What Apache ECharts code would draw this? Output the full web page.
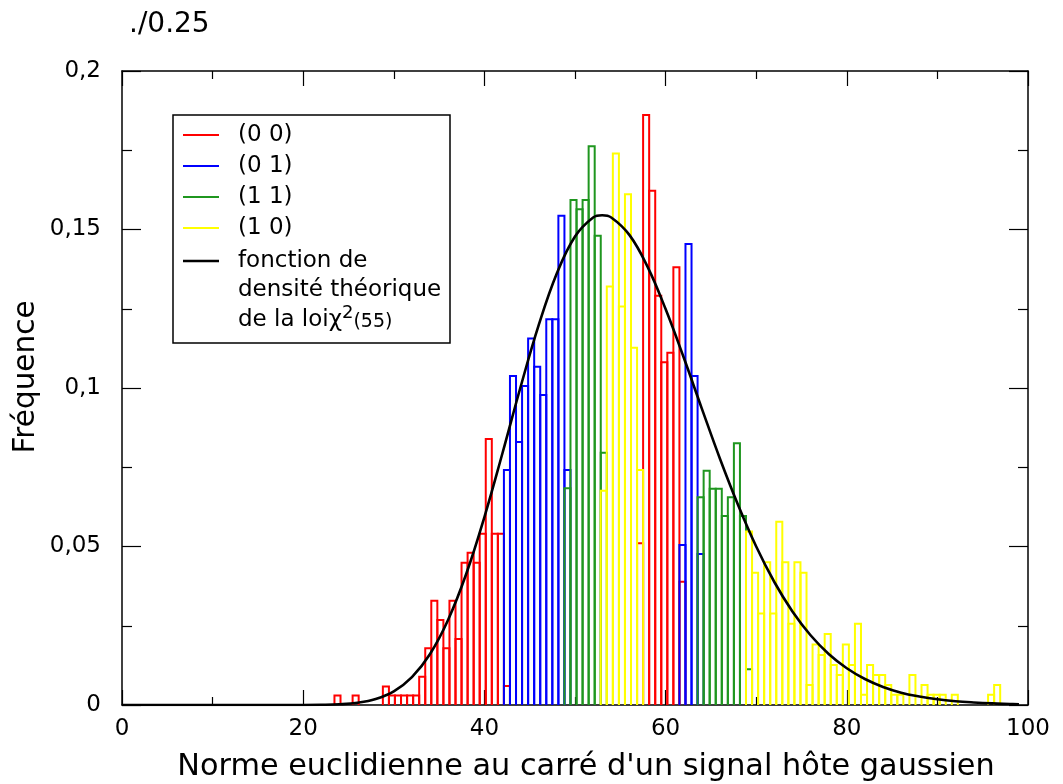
<!DOCTYPE html>
<html>
<head>
<meta charset="utf-8">
<script src="https://cdn.jsdelivr.net/npm/echarts@6/dist/echarts.min.js"></script>
<style>
html,body{margin:0;padding:0;background:#fff;}
#chart{width:1063px;height:784px;}
</style>
</head>
<body>
<div id="chart"></div>
<script>
// ---- data ----
const binStart = 23.45;      // left edge of first histogram bin
const binWidth = 0.668;      // common bin width
const seriesNames = ['(0 0)', '(0 1)', '(1 1)', '(1 0)'];
const seriesColors = ['#ff0000', '#0000ff', '#1f961f', '#ffff00'];

// bin index of first value of each series
const redStartBin = 0;
const redHeights = [0.003,0,0,0.003,0,0,0,0,0.0058,0.003,0.003,0.003,0.003,0.003,0.0089,0.0179,0.0329,0.0268,0.0179,0.0329,0.0208,0.0449,0.048,0.0449,0.054,0.0839,0.054,0.054,0.006,
  0,0,0,0,0,0,0,0,0,0,0,0,0,0,0,0,0,0,0,0,0,
  0.051,0.1861,0.1622,0.1291,0.1081,0.1111,0.1381,0.0389];
const blueStartBin = 28;
const blueHeights = [0.0741,0.1038,0.083,0.1006,0.1156,0.1067,0.0978,0.1217,0.1217,0.1543,0.0741,
  0,0,0,0,0,0,0,0,0,0,0,0,0,0,0,0,0,0,
  0.0505,0.1454,0.1038,0.0476];
const greenStartBin = 38;
const greenHeights = [0.0684,0.1593,0.1564,0.1593,0.1763,0.148,0.0796,
  0,0,0,0,0,0,0,0,0,0,0,0,0,0,0,
  0.0655,0.0739,0.0682,0.0682,0.0596,0.0655,0.0826,0.0596,0.0113];
const yellowStartBin = 44;
const yellowHeights = [0.0676,0.132,0.174,0.1257,0.1611,0.1127,0.0741,
  0,0,0,0,0,0,0,0,0,0,0,0,0,0,0,0,0,
  0.0547,0.0417,0.0289,0.045,0.0289,0.0578,0.045,0.0256,0.045,0.0417,0.0063,0.0191,0.0158,0.0224,0.0126,0.0095,0.0191,0.0126,0.0256,0.0032,0.0126,0.0095,0.0095,0.0063,0.0032,0.0032,0,0.0095,0,0.0063,0.0032,0.0032,0.0032,0,0.0032,0,0,0,0,0,0.0032,0.0063];

// theoretical density curve
const curveX = [0,10,20,22,24,26,28,30,32,34,36,38,40,42,44,46,48,50,52,53,54,56,58,60,62,64,66,68,70,72,74,76,78,80,82,84,86,88,90,92,94,96,98,99];
const curveY = [0,0,0.00001,0.00006,0.00023,0.00072,0.0019,0.0043,0.0088,0.0161,0.0269,0.0414,0.0593,0.0795,0.1004,0.1199,0.1362,0.1478,0.1538,0.1545,0.1538,0.1483,0.1383,0.1249,0.1096,0.0935,0.0777,0.0631,0.05,0.0388,0.0295,0.022,0.0161,0.0116,0.0082,0.0057,0.0039,0.0027,0.0018,0.0012,0.0008,0.0005,0.0003,0.0002];

const xTicks = {min:0, max:100, interval:20};
const yTicks = {min:0, max:0.2, interval:0.05};
const titleText = './0.25';
const xName = "Norme euclidienne au carré d'un signal hôte gaussien";
const yName = 'Fréquence';
const curveLegend = ['fonction de', 'densité théorique'];

// ---- chart ----
const FONT = 'DejaVu Sans';
const chart = echarts.init(document.getElementById('chart'), null, {renderer:'canvas'});

function histSeries(name, color, startBin, heights) {
  const data = heights.map((h, i) => [binStart + (startBin + i) * binWidth, h]);
  return {
    type: 'custom', name: name, data: data, silent: true, animation: false,
    encode: {x: 0, y: 1}, z: 2,
    renderItem: function (params, api) {
      const x0 = api.value(0), h = api.value(1);
      if (!(h > 0)) return;
      const bl = api.coord([x0, 0]);
      const tr = api.coord([x0 + binWidth, h]);
      return {
        type: 'polyline',
        shape: {points: [[bl[0], bl[1]], [bl[0], tr[1]], [tr[0], tr[1]], [tr[0], bl[1]]]},
        style: {stroke: color, fill: 'none', lineWidth: 2}
      };
    }
  };
}

function axisDef(kind, position, showLabels, range) {
  const isX = kind === 'x';
  const a = {
    type: 'value', position: position, min: range.min, max: range.max, interval: range.interval,
    axisLine: {show: true, onZero: false, lineStyle: {color: '#000', width: 1.5}},
    splitLine: {show: false},
    axisTick: {show: true, inside: true, length: isX ? 15 : 19, lineStyle: {color: '#000', width: 1.2}},
    minorTick: {show: true, splitNumber: 2, length: isX ? 8 : 10, lineStyle: {color: '#000', width: 1.2}},
    axisLabel: {show: showLabels, color: '#000', fontSize: 23, fontFamily: FONT, margin: isX ? 13 : 21}
  };
  if (!isX) a.axisLabel.formatter = v => String(Math.round(v * 1000) / 1000).replace('.', ',');
  return a;
}

const option = {
  animation: false,
  backgroundColor: '#fff',
  grid: {left: 122, right: 35, top: 71, bottom: 79, show: false},
  xAxis: [axisDef('x', 'bottom', true, xTicks), axisDef('x', 'top', false, xTicks)],
  yAxis: [axisDef('y', 'left', true, yTicks), axisDef('y', 'right', false, yTicks)],
  series: [
    histSeries(seriesNames[0], seriesColors[0], redStartBin, redHeights),
    histSeries(seriesNames[1], seriesColors[1], blueStartBin, blueHeights),
    histSeries(seriesNames[2], seriesColors[2], greenStartBin, greenHeights),
    histSeries(seriesNames[3], seriesColors[3], yellowStartBin, yellowHeights),
    {
      type: 'line', name: 'chi2', data: curveX.map((x, i) => [x, curveY[i]]),
      smooth: 0.4, showSymbol: false, symbol: 'none', z: 5,
      lineStyle: {color: '#000', width: 2.6}, silent: true
    }
  ],
  graphic: []
};

// legend box built from series names/colors
const lg = {x: 173, y: 115, w: 277, h: 228, lineX0: 183, lineX1: 219, textX: 238, rowY: [135, 166, 197, 228, 261], subRowY: [290, 318]};
const g = [];
g.push({type: 'rect', z: 100, shape: {x: lg.x, y: lg.y, width: lg.w, height: lg.h},
  style: {fill: '#fff', stroke: '#000', lineWidth: 1.5}});
const legendColors = seriesColors.concat(['#000']);
const legendTexts = seriesNames.concat([curveLegend[0]]);
for (let i = 0; i < 5; i++) {
  g.push({type: 'line', z: 101, shape: {x1: lg.lineX0, y1: lg.rowY[i], x2: lg.lineX1, y2: lg.rowY[i]},
    style: {stroke: legendColors[i], lineWidth: i === 4 ? 2.6 : 2}});
  g.push({type: 'text', z: 101, x: lg.textX, y: lg.rowY[i],
    style: {text: legendTexts[i], fontSize: 23, fontFamily: FONT, fill: '#000', verticalAlign: 'middle', textVerticalAlign: 'middle'}});
}
g.push({type: 'text', z: 101, x: lg.textX, y: lg.subRowY[0],
  style: {text: curveLegend[1], fontSize: 23, fontFamily: FONT, fill: '#000', verticalAlign: 'middle', textVerticalAlign: 'middle'}});
g.push({type: 'text', z: 101, x: lg.textX, y: lg.subRowY[1],
  style: {text: '{a|de la loiχ}{s|2}{b|(55)}', fontFamily: FONT, fill: '#000', verticalAlign: 'middle', textVerticalAlign: 'middle',
    rich: {
      a: {fontSize: 23, fontFamily: FONT, fill: '#000', color: '#000', verticalAlign: 'bottom'},
      s: {fontSize: 18, fontFamily: FONT, fill: '#000', color: '#000', verticalAlign: 'top', padding: [0, 0, 10, 0]},
      b: {fontSize: 19, fontFamily: FONT, fill: '#000', color: '#000', verticalAlign: 'bottom'}
    }}});

// title and axis names
g.push({type: 'text', x: 129, y: 25, style: {text: titleText, fontSize: 28, fontFamily: FONT, fill: '#000', verticalAlign: 'middle', textVerticalAlign: 'middle'}});
g.push({type: 'text', x: 586, y: 767, style: {text: xName, fontSize: 30.3, fontFamily: FONT, fill: '#000', align: 'center', textAlign: 'center', verticalAlign: 'middle', textVerticalAlign: 'middle'}});
g.push({type: 'text', x: 26, y: 377, rotation: Math.PI / 2, style: {text: yName, fontSize: 29.5, fontFamily: FONT, fill: '#000', align: 'center', textAlign: 'center', verticalAlign: 'middle', textVerticalAlign: 'middle'}});
option.graphic = g;

chart.setOption(option);
</script>
</body>
</html>
